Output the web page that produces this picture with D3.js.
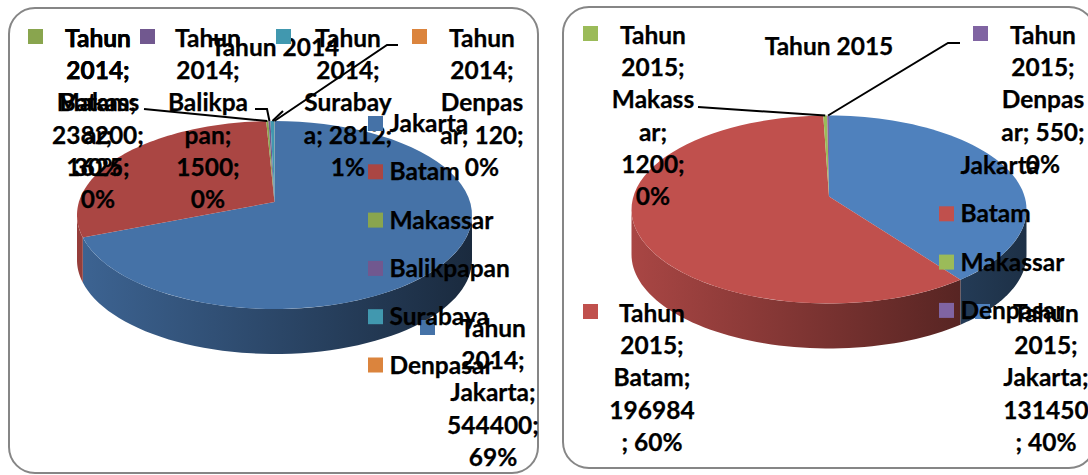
<!DOCTYPE html>
<html>
<head>
<meta charset="utf-8">
<script src="https://cdn.jsdelivr.net/npm/d3@7"></script>
<style>
    html, body { margin: 0; padding: 0; background: #fff; overflow: hidden; }
    text { font-family: Lato, "Open Sans", sans-serif; font-weight: 700; font-size: 24.5px; fill: #000; stroke: #000; stroke-width: 0.25px; }
</style>
</head>
<body>
<div class="charts"></div>
<script>
'use strict'

// Data.
const categories2014 = ['Jakarta', 'Batam', 'Makassar', 'Balikpapan', 'Surabaya', 'Denpasar'];
const values2014 = [544400, 238200, 1625, 1500, 2812, 120];
const colors2014 = ['#4572A7', '#AA4643', '#89A54E', '#71588F', '#4198AF', '#DB843D'];
const labels2014 = [
    ['Tahun', '2014;', 'Jakarta;', '544400;', '69%'],
    ['Tahun', '2014;', 'Batam;', '238200;', '30%'],
    ['Tahun', '2014;', 'Makass', 'ar;', '1625;', '0%'],
    ['Tahun', '2014;', 'Balikpa', 'pan;', '1500;', '0%'],
    ['Tahun', '2014;', 'Surabay', 'a; 2812;', '1%'],
    ['Tahun', '2014;', 'Denpas', 'ar; 120;', '0%']
];

const categories2015 = ['Jakarta', 'Batam', 'Makassar', 'Denpasar'];
const values2015 = [131450, 196984, 1200, 550];
const colors2015 = ['#4F81BD', '#C0504D', '#9BBB59', '#8064A2'];
const labels2015 = [
    ['Tahun', '2015;', 'Jakarta;', '131450', '; 40%'],
    ['Tahun', '2015;', 'Batam;', '196984', '; 60%'],
    ['Tahun', '2015;', 'Makass', 'ar;', '1200;', '0%'],
    ['Tahun', '2015;', 'Denpas', 'ar; 550;', '0%']
];

// Layout of each panel. Label x is the text centre, y the first baseline.
const layout2014 = {
    title: 'Tahun 2014',
    frame: {x: 9, y: 8, width: 529, height: 465},
    center: {x: 274.5, y: 202},
    titlePos: [275, 55.5],
    labelPos: [[493, 337], [98, 47], [98, 47], [208, 47], [348, 47], [482, 47]],
    markerPos: [[420, 320], [28, 29], [28, 29], [140, 29], [276, 29], [412, 29]],
    legendX: 368,
    legendY: 116,
    leaders: [
        null, null,
        [[144, 109]],
        [[255, 109], [267, 109]],
        [[283, 111]],
        [[398, 45], [387, 45]]
    ]
};

const layout2015 = {
    title: 'Tahun 2015',
    frame: {x: 563, y: 7, width: 532, height: 461},
    center: {x: 829, y: 196.5},
    titlePos: [829, 54.5],
    labelPos: [[1046, 322], [652, 322], [653, 44], [1043, 44]],
    markerPos: [[975, 304], [583, 304], [583, 26], [973, 26]],
    legendX: 939,
    legendY: 158,
    leaders: [
        null, null,
        [[698, 107]],
        [[960, 43], [948, 43]]
    ]
};

// Dimensions and constants shared by both pies.
const width = 1088,
    height = 475,
    tilt = 0.1383,      // perspective of the pie top
    radiusX = 195.6,
    radiusY = 92.2,
    depth = 45,
    lineHeight = 32.2,
    legendStep = 48.3,
    markerSize = 15;

const svg = d3.select('.charts')
    .append('svg')
    .attr('width', width)
    .attr('height', height)
    .style('display', 'block');

const defs = svg.append('defs');

// Scale a colour towards black, used for the shaded pie wall.
function shade(color, f) {
    const c = d3.rgb(color);
    return d3.rgb(c.r * f, c.g * f, c.b * f).formatHex();
}

function drawPie(id, categories, values, colors, labels, cfg) {
    const g = svg.append('g').attr('class', id);

    g.append('rect')
        .attr('x', cfg.frame.x)
        .attr('y', cfg.frame.y)
        .attr('width', cfg.frame.width)
        .attr('height', cfg.frame.height)
        .attr('rx', 26)
        .attr('ry', 26)
        .attr('fill', '#fff')
        .attr('stroke', '#868686')
        .attr('stroke-width', 2);

    const arcs = d3.pie().sort(null)(values);

    // Angle on the pie to a point on the tilted rim.
    const rim = a => {
        const w = 1 + tilt * Math.cos(a);
        return [
            cfg.center.x + radiusX * Math.sin(a) / w,
            cfg.center.y - radiusY * Math.cos(a) / w
        ];
    };
    const sample = (a0, a1) => d3.range(0, 61).map(i => a0 + (a1 - a0) * i / 60);
    const line = d3.line();

    // Only the near part of the wall can be seen.
    const wallFrom = Math.acos(-tilt),
        wallTo = 2 * Math.PI - wallFrom;

    arcs.forEach((d, i) => {
        const a0 = Math.max(d.startAngle, wallFrom),
            a1 = Math.min(d.endAngle, wallTo);
        if (a1 <= a0) return;

        const gradId = id + '-wall-' + i;
        const grad = defs.append('linearGradient')
            .attr('id', gradId)
            .attr('gradientUnits', 'userSpaceOnUse')
            .attr('x1', rim(wallTo)[0])
            .attr('x2', rim(wallFrom)[0])
            .attr('y1', 0)
            .attr('y2', 0);
        grad.append('stop').attr('offset', 0).attr('stop-color', shade(colors[i], 0.88));
        grad.append('stop').attr('offset', 1).attr('stop-color', shade(colors[i], 0.37));

        const front = sample(a0, a1).map(rim);
        const back = front.map(p => [p[0], p[1] + depth]).reverse();
        g.append('path')
            .attr('d', line(front.concat(back)) + 'Z')
            .attr('fill', `url(#${gradId})`);
    });

    g.selectAll('path.slice')
        .data(arcs)
        .join('path')
        .attr('class', 'slice')
        .attr('fill', (d, i) => colors[i])
        .attr('d', d => line([[cfg.center.x, cfg.center.y]].concat(sample(d.startAngle, d.endAngle).map(rim))) + 'Z');

    // Title.
    g.append('text')
        .attr('x', cfg.titlePos[0])
        .attr('y', cfg.titlePos[1])
        .style('text-anchor', 'middle')
        .text(cfg.title);

    // Leader lines start on the rim of their slice.
    arcs.forEach((d, i) => {
        if (!cfg.leaders[i]) return;
        const start = rim((d.startAngle + d.endAngle) / 2);
        g.append('path')
            .attr('d', line([start].concat(cfg.leaders[i].slice().reverse())))
            .attr('fill', 'none')
            .attr('stroke', '#000')
            .attr('stroke-width', 2);
    });

    // Data labels with their colour keys.
    labels.forEach((lines, i) => {
        g.append('rect')
            .attr('x', cfg.markerPos[i][0])
            .attr('y', cfg.markerPos[i][1])
            .attr('width', markerSize)
            .attr('height', markerSize)
            .attr('fill', colors[i]);

        g.append('text')
            .attr('y', cfg.labelPos[i][1])
            .style('text-anchor', 'middle')
            .selectAll('tspan')
            .data(lines)
            .join('tspan')
            .attr('x', cfg.labelPos[i][0])
            .attr('y', (l, j) => cfg.labelPos[i][1] + j * lineHeight)
            .text(l => l);
    });

    // Legend.
    categories.forEach((c, i) => {
        const y = cfg.legendY + i * legendStep;
        g.append('rect')
            .attr('x', cfg.legendX)
            .attr('y', y)
            .attr('width', markerSize)
            .attr('height', markerSize)
            .attr('fill', colors[i]);
        g.append('text')
            .attr('x', cfg.legendX + 21.5)
            .attr('y', y + 16)
            .text(c);
    });
}

drawPie('pie2014', categories2014, values2014, colors2014, labels2014, layout2014);
drawPie('pie2015', categories2015, values2015, colors2015, labels2015, layout2015);
</script>
</body>
</html>
